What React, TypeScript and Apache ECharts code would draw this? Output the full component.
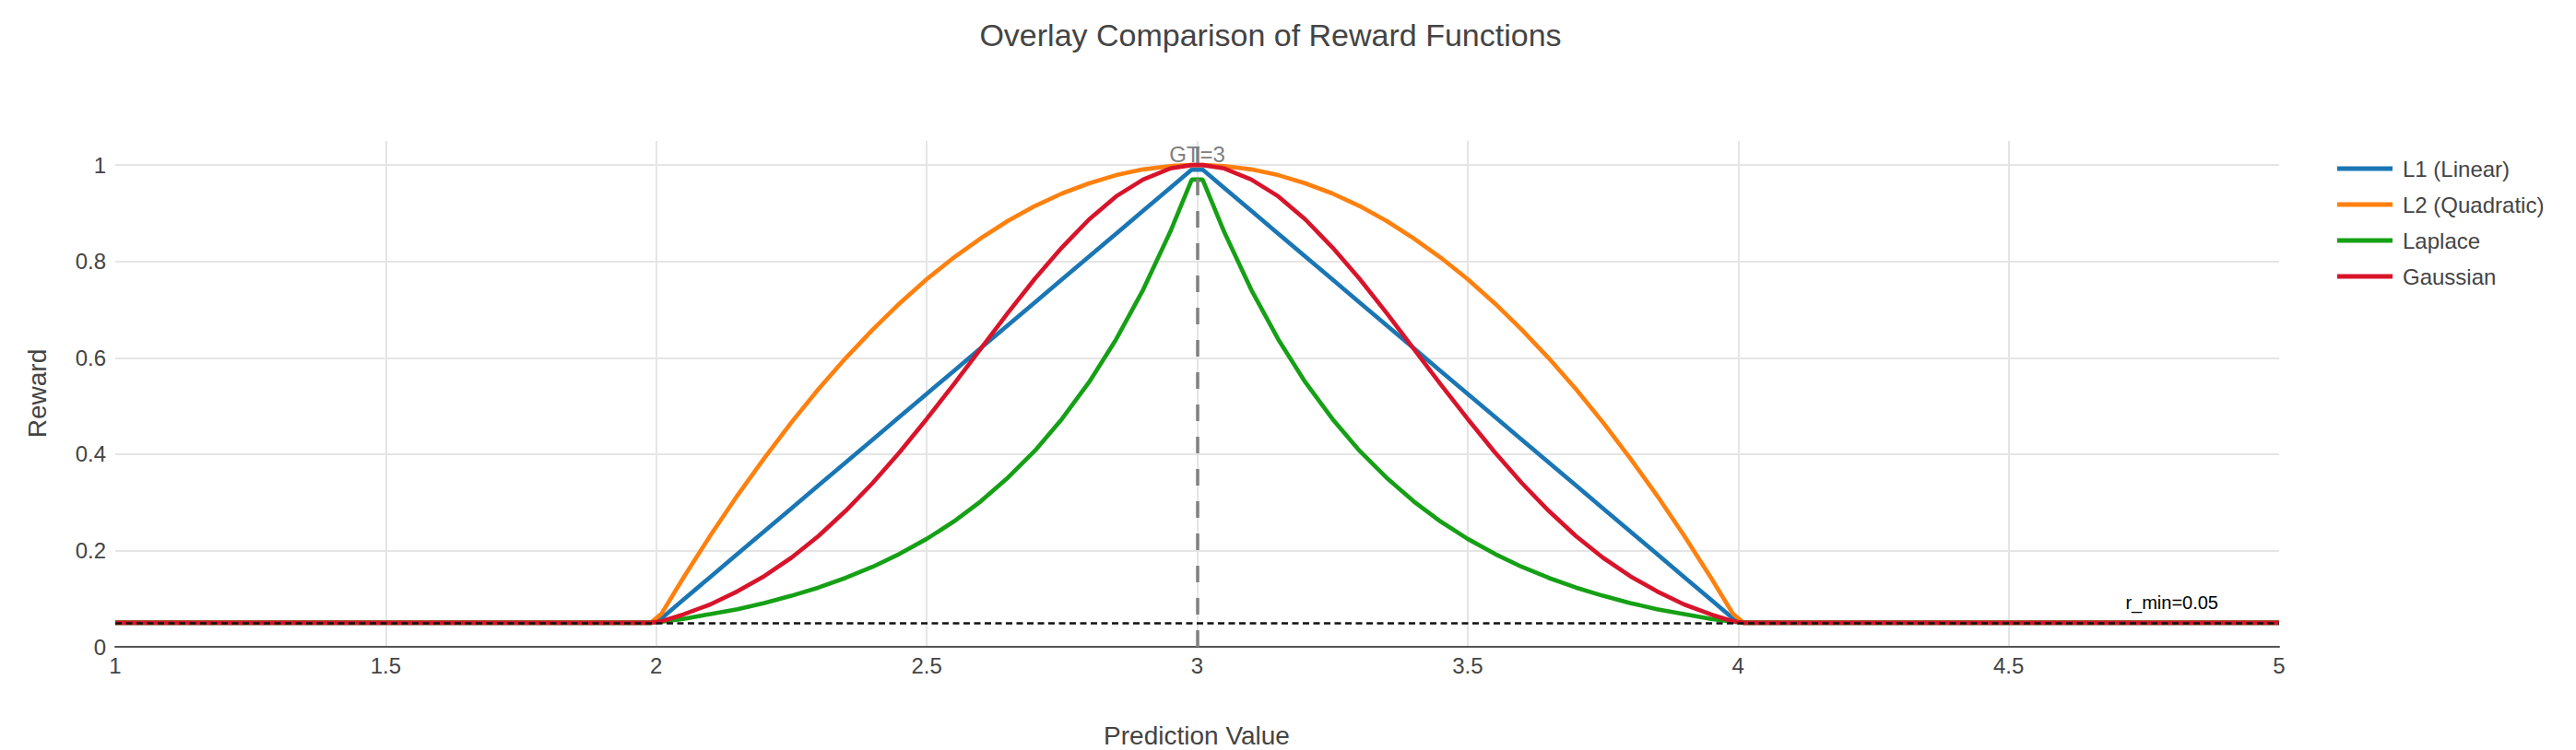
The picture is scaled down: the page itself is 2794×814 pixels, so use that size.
import React, { useEffect, useRef } from "react";
import * as echarts from "echarts";

// ---- data ----
const xValues = [
  1, 1.99, 2.01, 2.05, 2.1, 2.15, 2.2, 2.25, 2.3, 2.35, 2.4, 2.45, 2.5, 2.55, 2.6, 2.65, 2.7, 2.75,
  2.8, 2.85, 2.9, 2.95, 2.99, 3.01, 3.05, 3.1, 3.15, 3.2, 3.25, 3.3, 3.35, 3.4, 3.45, 3.5, 3.55,
  3.6, 3.65, 3.7, 3.75, 3.8, 3.85, 3.9, 3.95, 3.99, 4.01, 5,
];

const l1Values = [
  0.05, 0.05, 0.0595, 0.0975, 0.145, 0.1925, 0.24, 0.2875, 0.335, 0.3825, 0.43, 0.4775, 0.525,
  0.5725, 0.62, 0.6675, 0.715, 0.7625, 0.81, 0.8575, 0.905, 0.9525, 0.9905,
  0.9905, 0.9525, 0.905, 0.8575, 0.81, 0.7625, 0.715, 0.6675, 0.62, 0.5725, 0.525, 0.4775, 0.43,
  0.3825, 0.335, 0.2875, 0.24, 0.1925, 0.145, 0.0975, 0.0595, 0.05, 0.05,
];

const l2Values = [
  0.05, 0.05, 0.069, 0.143, 0.231, 0.314, 0.392, 0.466, 0.535, 0.599, 0.658, 0.713, 0.763, 0.808,
  0.848, 0.884, 0.915, 0.941, 0.962, 0.979, 0.991, 0.998, 1.0,
  1.0, 0.998, 0.991, 0.979, 0.962, 0.941, 0.915, 0.884, 0.848, 0.808, 0.763, 0.713, 0.658, 0.599,
  0.535, 0.466, 0.392, 0.314, 0.231, 0.143, 0.069, 0.05, 0.05,
];

const laplaceValues = [
  0.05, 0.05, 0.052, 0.058, 0.068, 0.078, 0.091, 0.106, 0.123, 0.143, 0.166, 0.193, 0.224, 0.26,
  0.302, 0.351, 0.407, 0.473, 0.549, 0.638, 0.741, 0.861, 0.97,
  0.97, 0.861, 0.741, 0.638, 0.549, 0.473, 0.407, 0.351, 0.302, 0.26, 0.224, 0.193, 0.166, 0.143,
  0.123, 0.106, 0.091, 0.078, 0.068, 0.058, 0.052, 0.05, 0.05,
];

const gaussianValues = [
  0.05, 0.05, 0.053, 0.067, 0.088, 0.115, 0.147, 0.185, 0.23, 0.282, 0.34, 0.404, 0.473, 0.545,
  0.619, 0.693, 0.764, 0.829, 0.887, 0.935, 0.97, 0.993, 1.0,
  1.0, 0.993, 0.97, 0.935, 0.887, 0.829, 0.764, 0.693, 0.619, 0.545, 0.473, 0.404, 0.34, 0.282,
  0.23, 0.185, 0.147, 0.115, 0.088, 0.067, 0.053, 0.05, 0.05,
];

const seriesNames = ["L1 (Linear)", "L2 (Quadratic)", "Laplace", "Gaussian"];
const seriesValues = [l1Values, l2Values, laplaceValues, gaussianValues];
const seriesColors = ["#1a76b4", "#ff800e", "#15a015", "#d8142a"];

const groundTruth = 3;
const rMin = 0.05;
const xMin = 1;
const xMax = 5;
const xInterval = 0.5;
const yMin = 0;
const yMax = 1.05;
const yInterval = 0.2;

const titleText = "Overlay Comparison of Reward Functions";
const xAxisTitle = "Prediction Value";
const yAxisTitle = "Reward";
const gtLabel = "GT=3";
const rMinLabel = "r_min=0.05";

const FONT = "'Liberation Sans', Arial, Helvetica, sans-serif";
const TEXT_COLOR = "#444";

export default function App() {
  const ref = useRef<HTMLDivElement>(null);

  useEffect(() => {
    if (!ref.current) return;
    document.body.style.margin = "0";
    const chart = echarts.init(ref.current, undefined, { renderer: "svg" });

    const lineSeries = seriesNames.map((name, i) => ({
      name,
      type: "line",
      data: xValues.map((x, j) => [x, seriesValues[i][j]]),
      showSymbol: false,
      symbol: "none",
      smooth: false,
      color: seriesColors[i],
      lineStyle: { width: 4.6, color: seriesColors[i] },
      z: 2,
    }));

    const option: any = {
      animation: false,
      backgroundColor: "#fff",
      textStyle: { fontFamily: FONT },
      grid: { left: 125, right: 322, top: 153, bottom: 112, containLabel: false },
      xAxis: {
        type: "value",
        min: xMin,
        max: xMax,
        interval: xInterval,
        axisLine: { show: true, onZero: false, lineStyle: { color: "#555", width: 2 } },
        axisTick: { show: false },
        axisLabel: { color: TEXT_COLOR, fontSize: 24, fontFamily: FONT, margin: 8 },
        splitLine: {
          show: true,
          showMinLine: false,
          showMaxLine: false,
          lineStyle: { color: "#e5e5e5", width: 2 },
        },
      },
      yAxis: {
        type: "value",
        min: yMin,
        max: yMax,
        interval: yInterval,
        axisLine: { show: false },
        axisTick: { show: false },
        axisLabel: { color: TEXT_COLOR, fontSize: 24, fontFamily: FONT, margin: 10, showMaxLabel: false },
        splitLine: {
          show: true,
          showMaxLine: false,
          lineStyle: { color: "#e5e5e5", width: 2 },
        },
      },
      legend: {
        data: seriesNames,
        orient: "vertical",
        left: 2530,
        top: 166,
        itemWidth: 60,
        itemHeight: 5,
        itemGap: 15,
        icon: "rect",
        textStyle: { color: TEXT_COLOR, fontSize: 24, fontFamily: FONT, padding: [0, 0, 0, 6] },
      },
      series: [
        ...lineSeries,
        {
          name: "annotations",
          type: "line",
          data: [],
          z: 5,
          markLine: {
            silent: true,
            animation: false,
            symbol: ["none", "none"],
            data: [
              {
                xAxis: groundTruth,
                lineStyle: { color: "#808080", width: 3.5, type: [18, 17] },
                label: { show: false },
              },
              {
                yAxis: rMin,
                lineStyle: { color: "#111", width: 2.5, type: [7, 4.5] },
                label: {
                  show: true,
                  formatter: rMinLabel,
                  position: "insideEndTop",
                  distance: [66, 12],
                  color: "#000",
                  fontSize: 20,
                  fontFamily: FONT,
                },
              },
            ],
          },
          markPoint: {
            silent: true,
            animation: false,
            symbol: "circle",
            symbolSize: 0,
            data: [
              {
                coord: [groundTruth, 1],
                label: {
                  show: true,
                  formatter: gtLabel,
                  position: "top",
                  distance: 0,
                  color: "#808080",
                  fontSize: 24,
                  fontFamily: FONT,
                },
              },
            ],
          },
        },
      ],
      graphic: [
        {
          type: "text",
          x: 1378,
          y: 38,
          style: {
            text: titleText,
            fill: TEXT_COLOR,
            font: `34px ${FONT}`,
            textAlign: "center",
            textVerticalAlign: "middle",
            align: "center",
            verticalAlign: "middle",
          },
        },
        {
          type: "text",
          x: 1298,
          y: 798,
          style: {
            text: xAxisTitle,
            fill: TEXT_COLOR,
            font: `28px ${FONT}`,
            textAlign: "center",
            textVerticalAlign: "middle",
            align: "center",
            verticalAlign: "middle",
          },
        },
        {
          type: "text",
          x: 40,
          y: 427,
          rotation: Math.PI / 2,
          style: {
            text: yAxisTitle,
            fill: TEXT_COLOR,
            font: `28px ${FONT}`,
            textAlign: "center",
            textVerticalAlign: "middle",
            align: "center",
            verticalAlign: "middle",
          },
        },
      ],
    };

    chart.setOption(option);
    return () => {
      chart.dispose();
    };
  }, []);

  return (
    <div
      ref={ref}
      style={{ position: "fixed", left: 0, top: 0, width: 2794, height: 814, background: "#fff" }}
    />
  );
}
